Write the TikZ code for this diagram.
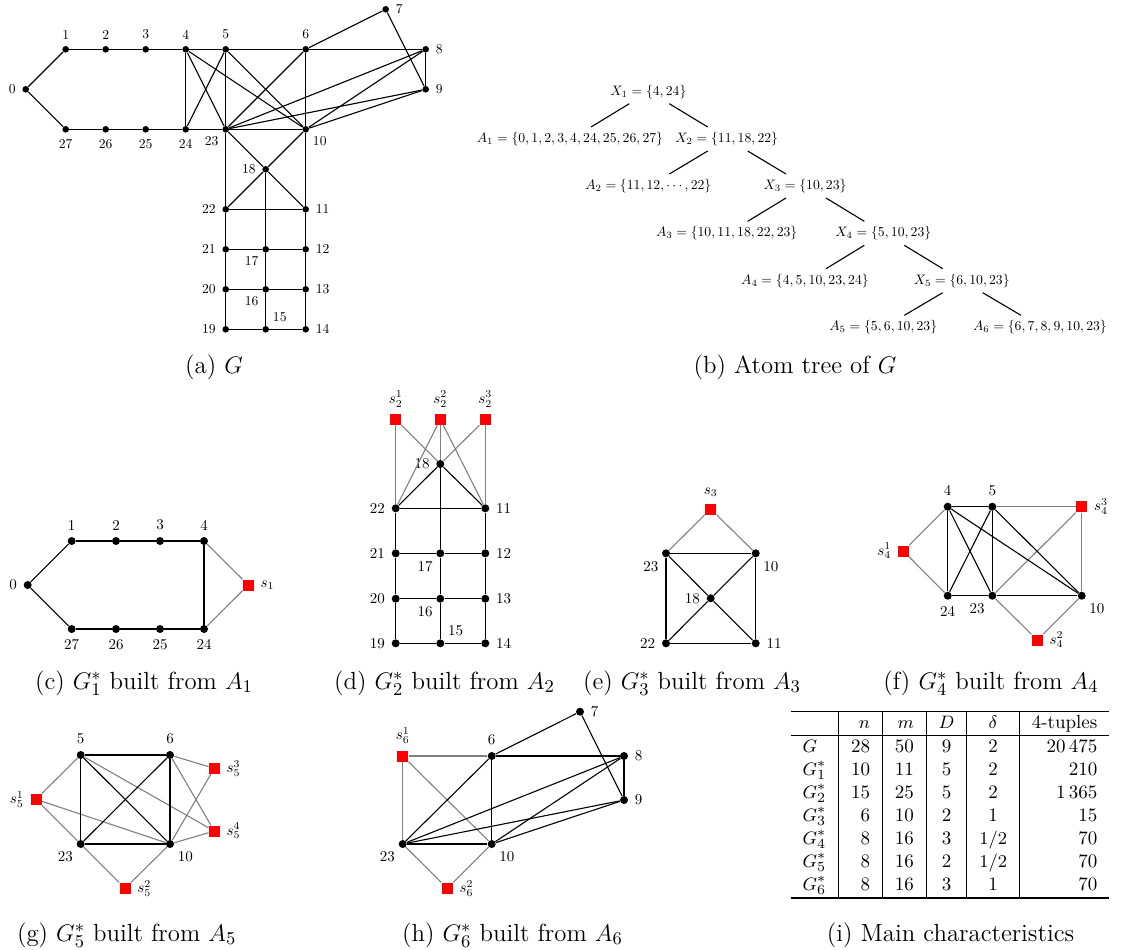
\documentclass[tikz,border=0pt]{standalone}
\usepackage{array}
\newcommand{\mythickrule}{\noalign{\hrule height 0.8pt}}
\newcommand{\lbl}[1]{\scalebox{0.75}{#1}}
\newcommand{\lbla}[1]{\scalebox{0.68}{#1}}
\newcommand{\trt}[1]{\scalebox{0.685}{#1}}
\begin{document}
\begin{tikzpicture}[x=0.5pt,y=-0.5pt,
  v/.style={circle,fill=black,inner sep=0pt,minimum size=4pt},
  va/.style={circle,fill=black,inner sep=0pt,minimum size=3.3pt},
  sq/.style={rectangle,fill=red,inner sep=0pt,minimum size=5.5pt},
  e/.style={line width=0.55pt,black},
  ge/.style={line width=0.55pt,black!50},
  captxt/.style={font=\fontsize{12.4}{15}\selectfont,inner sep=0pt},
  tr/.style={font=\normalsize,inner sep=0pt},
  every label/.style={font=\normalsize,inner sep=0pt},
  label distance=3pt]
\useasboundingbox (0,0) rectangle (1122,949);

% ---------------- (a) G ----------------
\node[va,label=left:\lbla{0}] (a0) at (25.7,89.3) {};
\node[va,label=above:\lbla{1}] (a1) at (65.7,49.3) {};
\node[va,label=above:\lbla{2}] (a2) at (105.7,49.3) {};
\node[va,label=above:\lbla{3}] (a3) at (145.7,49.3) {};
\node[va,label=above:\lbla{4}] (a4) at (185.7,49.3) {};
\node[va,label=above:\lbla{5}] (a5) at (225.7,49.3) {};
\node[va,label=above:\lbla{6}] (a6) at (305.7,49.3) {};
\node[va,label=right:\lbla{7}] (a7) at (385.7,9.3) {};
\node[va,label=right:\lbla{8}] (a8) at (425.7,49.3) {};
\node[va,label=right:\lbla{9}] (a9) at (425.7,89.3) {};
\node[va,label=below right:\lbla{10}] (a10) at (305.7,129.3) {};
\node[va,label=below left:\lbla{23}] (a23) at (225.7,129.3) {};
\node[va,label=below:\lbla{24}] (a24) at (185.7,129.3) {};
\node[va,label=below:\lbla{25}] (a25) at (145.7,129.3) {};
\node[va,label=below:\lbla{26}] (a26) at (105.7,129.3) {};
\node[va,label=below:\lbla{27}] (a27) at (65.7,129.3) {};
\node[va,label=left:\lbla{18}] (a18) at (265.7,169.3) {};
\node[va,label=left:\lbla{22}] (a22) at (225.7,209.3) {};
\node[va,label=right:\lbla{11}] (a11) at (305.7,209.3) {};
\node[va,label=left:\lbla{21}] (a21) at (225.7,249.3) {};
\node[va,label=below left:\lbla{17}] (a17) at (265.7,249.3) {};
\node[va,label=right:\lbla{12}] (a12) at (305.7,249.3) {};
\node[va,label=left:\lbla{20}] (a20) at (225.7,289.3) {};
\node[va,label=below left:\lbla{16}] (a16) at (265.7,289.3) {};
\node[va,label=right:\lbla{13}] (a13) at (305.7,289.3) {};
\node[va,label=left:\lbla{19}] (a19) at (225.7,329.3) {};
\node[va,label=above right:\lbla{15}] (a15) at (265.7,329.3) {};
\node[va,label=right:\lbla{14}] (a14) at (305.7,329.3) {};
\foreach \u/\w in {a0/a1,a1/a2,a2/a3,a3/a4,a4/a5,a5/a6,a6/a8,
  a0/a27,a27/a26,a26/a25,a25/a24,a24/a23,a23/a10,
  a6/a7,a7/a9,a8/a9,
  a4/a24,a4/a23,a4/a10,a5/a24,a5/a23,a5/a10,a6/a23,a6/a10,
  a23/a8,a23/a9,a10/a8,a10/a9,
  a23/a18,a18/a11,a10/a18,a18/a22,
  a23/a22,a22/a21,a21/a20,a20/a19,a10/a11,a11/a12,a12/a13,a13/a14,
  a22/a11,a21/a17,a17/a12,a20/a16,a16/a13,a19/a15,a15/a14,
  a18/a17,a17/a16,a16/a15}
  \draw[e] (\u) -- (\w);
\node[captxt] (capa) at (214,367) {(a) $G$};

% ---------------- (b) atom tree ----------------
\node[tr] (X1) at (648.3,91.7) {\trt{$X_1=\{4,24\}$}};
\node[tr] (A1) at (570,139) {\trt{$A_1=\{0,1,2,3,4,24,25,26,27\}$}};
\node[tr] (X2) at (726.7,139) {\trt{$X_2=\{11,18,22\}$}};
\node[tr] (A2) at (648.3,186) {\trt{$A_2=\{11,12,\cdots,22\}$}};
\node[tr] (X3) at (805,186) {\trt{$X_3=\{10,23\}$}};
\node[tr] (A3) at (726.7,233.3) {\trt{$A_3=\{10,11,18,22,23\}$}};
\node[tr] (X4) at (883.3,233.3) {\trt{$X_4=\{5,10,23\}$}};
\node[tr] (A4) at (805,280.7) {\trt{$A_4=\{4,5,10,23,24\}$}};
\node[tr] (X5) at (961.7,280.7) {\trt{$X_5=\{6,10,23\}$}};
\node[tr] (A5) at (883.3,327.3) {\trt{$A_5=\{5,6,10,23\}$}};
\node[tr] (A6) at (1040,327.3) {\trt{$A_6=\{6,7,8,9,10,23\}$}};
\foreach \p/\l/\r in {X1/A1/X2,X2/A2/X3,X3/A3/X4,X4/A4/X5,X5/A5/A6}{
  \draw[e] ([shift={(-19,12)}]\p.center) -- ([shift={(21,-12)}]\l.center);
  \draw[e] ([shift={(21,12)}]\p.center) -- ([shift={(-19,-12)}]\r.center);
}
\node[captxt] (capb) at (795,367) {(b) Atom tree of $G$};

% ---------------- (c) ----------------
\node[v,label=left:\lbl{0}] (c0) at (27.7,585) {};
\node[v,label=above:\lbl{1}] (c1) at (71.7,541) {};
\node[v,label=above:\lbl{2}] (c2) at (116,541) {};
\node[v,label=above:\lbl{3}] (c3) at (160,541) {};
\node[v,label=above:\lbl{4}] (c4) at (204,541) {};
\node[v,label=below:\lbl{27}] (c27) at (71.7,629) {};
\node[v,label=below:\lbl{26}] (c26) at (116,629) {};
\node[v,label=below:\lbl{25}] (c25) at (160,629) {};
\node[v,label=below:\lbl{24}] (c24) at (204,629) {};
\node[sq,label=right:\lbl{$s_1$}] (cs) at (248.3,585) {};
\foreach \u/\w in {c0/c1,c1/c2,c2/c3,c3/c4,c0/c27,c27/c26,c26/c25,c25/c24,c4/c24}
  \draw[e] (\u) -- (\w);
\foreach \u/\w in {cs/c4,cs/c24} \draw[ge] (\u) -- (\w);
\node[captxt] (capc) at (144,683) {(c) $G_1^*$ built from $A_1$};

% ---------------- (d) ----------------
\node[sq,label=above:\lbl{$s_2^1$}] (ds1) at (395.7,419.3) {};
\node[sq,label=above:\lbl{$s_2^2$}] (ds2) at (440.3,419.3) {};
\node[sq,label=above:\lbl{$s_2^3$}] (ds3) at (485.3,419.3) {};
\node[v,label=left:\lbl{18}] (d18) at (440.3,464) {};
\node[v,label=left:\lbl{22}] (d22) at (395.7,508.3) {};
\node[v,label=right:\lbl{11}] (d11) at (485.3,508.3) {};
\node[v,label=left:\lbl{21}] (d21) at (395.7,553.3) {};
\node[v,label=below left:\lbl{17}] (d17) at (440.3,553.3) {};
\node[v,label=right:\lbl{12}] (d12) at (485.3,553.3) {};
\node[v,label=left:\lbl{20}] (d20) at (395.7,598.7) {};
\node[v,label=below left:\lbl{16}] (d16) at (440.3,598.7) {};
\node[v,label=right:\lbl{13}] (d13) at (485.3,598.7) {};
\node[v,label=left:\lbl{19}] (d19) at (395.7,643.3) {};
\node[v,label=above right:\lbl{15}] (d15) at (440.3,643.3) {};
\node[v,label=right:\lbl{14}] (d14) at (485.3,643.3) {};
\foreach \u/\w in {ds1/d22,ds1/d18,ds2/d22,ds2/d18,ds2/d11,ds3/d18,ds3/d11}
  \draw[ge] (\u) -- (\w);
\foreach \u/\w in {d22/d18,d18/d11,d22/d11,d18/d17,d17/d16,d16/d15,
  d22/d21,d21/d20,d20/d19,d11/d12,d12/d13,d13/d14,
  d21/d17,d17/d12,d20/d16,d16/d13,d19/d15,d15/d14}
  \draw[e] (\u) -- (\w);
\node[captxt] (capd) at (444.5,683) {(d) $G_2^*$ built from $A_2$};

% ---------------- (e) ----------------
\node[sq,label=above:\lbl{$s_3$}] (es) at (710.7,509) {};
\node[v,label=below left:\lbl{23}] (e23) at (666,553.3) {};
\node[v,label=below right:\lbl{10}] (e10) at (755.7,553.3) {};
\node[v,label=left:\lbl{18}] (e18) at (710.7,598.3) {};
\node[v,label=left:\lbl{22}] (e22) at (666,643.3) {};
\node[v,label=right:\lbl{11}] (e11) at (755.7,643.3) {};
\foreach \u/\w in {es/e23,es/e10} \draw[ge] (\u) -- (\w);
\foreach \u/\w in {e23/e10,e23/e22,e10/e11,e22/e11,e23/e18,e18/e11,e10/e18,e18/e22}
  \draw[e] (\u) -- (\w);
\node[captxt] (cape) at (692,683) {(e) $G_3^*$ built from $A_3$};

% ---------------- (f) ----------------
\node[v,label=above:\lbl{4}] (f4) at (947.7,506.7) {};
\node[v,label=above:\lbl{5}] (f5) at (992.3,506.7) {};
\node[sq,label=right:\lbl{$s_4^3$}] (fs3) at (1081.7,506.7) {};
\node[sq,label=left:\lbl{$s_4^1$}] (fs1) at (903.3,551) {};
\node[v,label=below:\lbl{24}] (f24) at (947.7,595.7) {};
\node[v,label=below left:\lbl{23}] (f23) at (992.3,595.7) {};
\node[v,label=below right:\lbl{10}] (f10) at (1081.7,595.7) {};
\node[sq,label=right:\lbl{$s_4^2$}] (fs2) at (1037.3,640) {};
\foreach \u/\w in {fs1/f4,fs1/f24,fs3/f5,fs3/f23,fs3/f10,fs2/f23,fs2/f10}
  \draw[ge] (\u) -- (\w);
\foreach \u/\w in {f4/f5,f4/f24,f4/f23,f4/f10,f5/f24,f5/f23,f5/f10,f24/f23,f23/f10}
  \draw[e] (\u) -- (\w);
\node[captxt] (capf) at (991,683) {(f) $G_4^*$ built from $A_4$};

% ---------------- (g) ----------------
\node[v,label=above:\lbl{5}] (g5) at (80.7,755) {};
\node[v,label=above:\lbl{6}] (g6) at (170,755) {};
\node[sq,label=right:\lbl{$s_5^3$}] (gs3) at (214.3,768.3) {};
\node[sq,label=left:\lbl{$s_5^1$}] (gs1) at (36,799.3) {};
\node[sq,label=right:\lbl{$s_5^4$}] (gs4) at (214.3,831) {};
\node[v,label=below left:\lbl{23}] (g23) at (80.7,844) {};
\node[v,label=below right:\lbl{10}] (g10) at (170,844) {};
\node[sq,label=right:\lbl{$s_5^2$}] (gs2) at (125,888.3) {};
\foreach \u/\w in {gs1/g5,gs1/g23,gs1/g10,gs2/g23,gs2/g10,gs3/g6,gs3/g10,gs4/g5,gs4/g6,gs4/g10}
  \draw[ge] (\u) -- (\w);
\foreach \u/\w in {g5/g6,g5/g23,g5/g10,g6/g23,g6/g10,g23/g10}
  \draw[e] (\u) -- (\w);
\node[captxt] (capg) at (126.7,935) {(g) $G_5^*$ built from $A_5$};

% ---------------- (h) ----------------
\node[sq,label=above:\lbl{$s_6^1$}] (hs1) at (402.7,756) {};
\node[v,label=above:\lbl{6}] (h6) at (491.7,756) {};
\node[v,label=right:\lbl{7}] (h7) at (580,711.7) {};
\node[v,label=right:\lbl{8}] (h8) at (624,756) {};
\node[v,label=right:\lbl{9}] (h9) at (624,800) {};
\node[v,label=below left:\lbl{23}] (h23) at (402.7,844) {};
\node[v,label=below right:\lbl{10}] (h10) at (491.7,844) {};
\node[sq,label=right:\lbl{$s_6^2$}] (hs2) at (447.3,888.3) {};
\foreach \u/\w in {hs1/h6,hs1/h23,hs1/h10,hs2/h23,hs2/h10}
  \draw[ge] (\u) -- (\w);
\foreach \u/\w in {h6/h7,h7/h9,h6/h8,h8/h9,h6/h23,h6/h10,h23/h10,h23/h8,h23/h9,h10/h8,h10/h9}
  \draw[e] (\u) -- (\w);
\node[captxt] (caph) at (512.5,935) {(h) $G_6^*$ built from $A_6$};

% ---------------- (i) table ----------------
\node[inner sep=0pt,font=\fontsize{9.5}{11.5}\selectfont] (tab) at (950,804.5) {%
\begin{tabular}{l|r|r|c|c|r}
\mythickrule
 & $n$ & $m$ & $D$ & $\delta$ & 4-tuples\\ \hline
$G$ & 28 & 50 & 9 & 2 & 20\,475\\
$G_1^*$ & 10 & 11 & 5 & 2 & 210\\
$G_2^*$ & 15 & 25 & 5 & 2 & 1\,365\\
$G_3^*$ & 6 & 10 & 2 & 1 & 15\\
$G_4^*$ & 8 & 16 & 3 & $1/2$ & 70\\
$G_5^*$ & 8 & 16 & 2 & $1/2$ & 70\\
$G_6^*$ & 8 & 16 & 3 & 1 & 70\\
\mythickrule
\end{tabular}};
\node[captxt] (capi) at (950.5,935) {(i) Main characteristics};
\end{tikzpicture}
\end{document}
